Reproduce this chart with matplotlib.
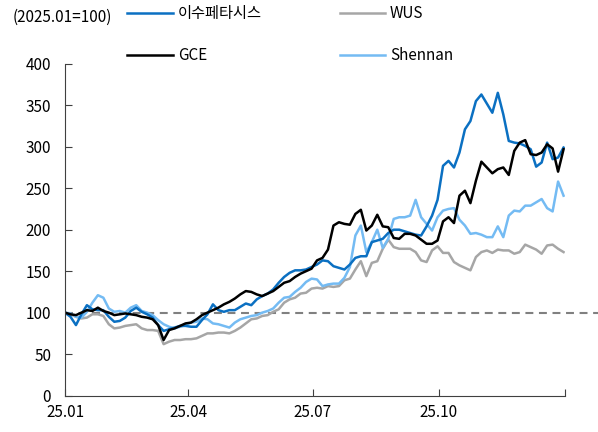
import numpy as np
import pandas as pd
import matplotlib
matplotlib.use("Agg")
import matplotlib.pyplot as plt

plt.rcParams["font.family"] = ["Noto Sans CJK KR", "DejaVu Sans"]
plt.rcParams["font.size"] = 11

# ---- data (indexed, 2025.01 = 100), one point every 4 days from 2025-01-01 ----
dates = pd.date_range("2025-01-01", periods=92, freq="4D")

isu = [100, 95, 85, 98, 109, 104, 103, 103, 95, 89, 90, 94, 102, 106, 101, 98, 94, 85, 78, 80,
       82, 84, 84, 83, 83, 91, 98, 110, 103, 101, 103,
       103, 107, 111, 109, 116, 120, 123, 128, 136, 143, 148, 151, 151, 152, 155, 158, 163, 162, 156,
       154, 152, 158, 166, 168, 168, 185, 187, 189, 196, 200, 200,
       198, 196, 194, 193, 204, 217, 236, 277, 283, 275, 293, 321, 331, 355, 363, 352, 341, 365,
       339, 307, 305, 304, 301, 297, 276, 281, 305, 285, 287, 299]

gce = [100, 98, 97, 100, 103, 102, 106, 102, 100, 97, 98, 99, 98, 97, 95, 94, 92, 85, 67, 79,
       81, 84, 87, 88, 92, 97, 100, 103, 106, 110, 113,
       117, 122, 126, 125, 122, 120, 123, 126, 131, 136, 138, 143, 147, 150, 153, 163, 166, 176, 205,
       209, 207, 206, 219, 224, 199, 205, 218, 204, 203, 190, 189,
       195, 195, 193, 188, 183, 183, 187, 210, 215, 208, 241, 247, 232, 259, 282, 275, 268, 273,
       275, 266, 295, 305, 308, 291, 290, 293, 303, 298, 270, 297]

wus = [100, 98, 95, 93, 94, 98, 98, 96, 86, 81, 82, 84, 85, 86, 81, 79, 79, 78, 62, 65,
       67, 67, 68, 68, 69, 72, 75, 75, 76, 76, 75,
       78, 82, 87, 92, 93, 96, 97, 101, 104, 112, 116, 118, 123, 124, 129, 130, 129, 132, 131,
       132, 139, 141, 152, 162, 144, 160, 162, 177, 188, 179, 177,
       177, 177, 173, 163, 161, 175, 180, 172, 172, 161, 157, 154, 151, 167, 173, 175, 172, 176,
       175, 175, 171, 173, 182, 179, 176, 171, 181, 182, 177, 173]

shennan = [100, 99, 95, 94, 101, 112, 121, 118, 105, 101, 102, 100, 106, 109, 102, 100, 97, 91, 86, 83,
           81, 83, 85, 88, 89, 93, 92, 87, 86, 84, 82,
           88, 92, 94, 96, 97, 100, 102, 105, 112, 118, 119, 125, 130, 137, 141, 140, 132, 134, 135,
           135, 142, 155, 193, 205, 173, 185, 200, 178, 189, 213, 215,
           215, 217, 236, 215, 207, 199, 215, 223, 225, 226, 212, 205, 195, 196, 194, 191, 191, 204,
           191, 217, 223, 222, 229, 229, 233, 237, 226, 222, 258, 241]

xticks = ["2025-01-01", "2025-04-01", "2025-07-01", "2025-10-01", "2026-01-01"]
xlabels = ["25.01", "25.04", "25.07", "25.10", ""]

# ---- figure ----
fig = plt.figure(figsize=(5.98, 4.32), dpi=100)
ax = fig.add_axes([0.1087, 0.0843, 0.836, 0.768])

lw = 1.8
ax.plot(dates, wus, color="#A6A6A6", lw=lw, label="WUS")
ax.plot(dates, shennan, color="#74BBF3", lw=lw, label="Shennan")
ax.plot(dates, isu, color="#0B70C2", lw=lw, label="이수페타시스")
ax.plot(dates, gce, color="black", lw=lw, label="GCE")

ax.axhline(100, xmin=0, xmax=1.066, color="#808080", lw=1.5, ls=(0, (3.8, 2.7)),
           clip_on=False, zorder=0)

ax.set_ylim(0, 400)
ax.set_yticks(range(0, 401, 50))
ax.set_xlim(pd.Timestamp("2025-01-01"), pd.Timestamp("2026-01-01"))
ax.set_xticks(pd.to_datetime(xticks))
ax.set_xticklabels(xlabels)
ax.tick_params(direction="in", length=5, width=0.8, colors="#404040", labelcolor="black", labelsize=11)
ax.tick_params(axis="y", pad=10)
ax.tick_params(axis="x", pad=6)
for s in ("top", "right"):
    ax.spines[s].set_visible(False)
for s in ("left", "bottom"):
    ax.spines[s].set_color("#404040")
    ax.spines[s].set_linewidth(0.8)

h = {l.get_label(): l for l in ax.get_lines()}
order = ["이수페타시스", "GCE", "WUS", "Shennan"]
fig.legend([h[k] for k in order], order, ncol=2, loc="upper left",
           bbox_to_anchor=(0.195, 1.013), frameon=False, fontsize=11,
           handlelength=3.0, handletextpad=0.3, labelspacing=1.65, columnspacing=5.1,
           borderpad=0.2)

fig.text(13 / 598, 1 - 17 / 432, "(2025.01=100)", fontsize=11, va="center", ha="left")

fig.savefig("out.png", dpi=100)
